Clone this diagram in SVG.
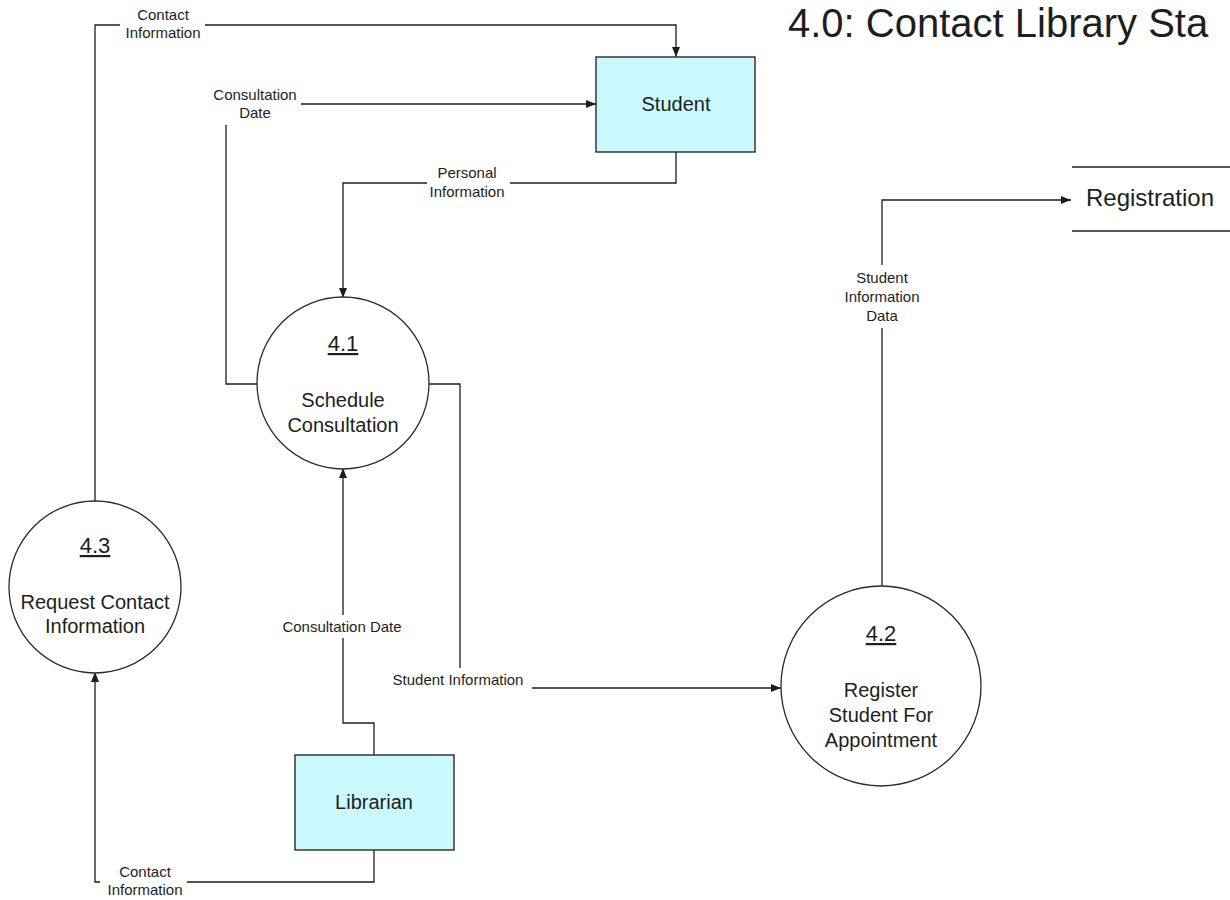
<svg xmlns="http://www.w3.org/2000/svg" width="1230" height="900" viewBox="0 0 1230 900">
  <style>
    text { font-family: "Liberation Sans", Arial, sans-serif; fill: #1e1e1e; }
    .lbl { font-size: 15px; text-anchor: middle; }
    .big { font-size: 20px; text-anchor: middle; }
    .num { font-size: 22px; text-anchor: middle; text-decoration: underline; }
    .ent { fill: #c9f9fc; stroke: #2a2a2a; stroke-width: 1.4; }
    .proc { fill: #ffffff; stroke: #2a2a2a; stroke-width: 1.3; }
    .flow { fill: none; stroke: #1e1e1e; stroke-width: 1.3; }
    .store { stroke: #1e1e1e; stroke-width: 1.3; }
  </style>
  <defs>
    <marker id="arr" viewBox="0 0 10 8" refX="10" refY="4" markerWidth="10" markerHeight="8" markerUnits="userSpaceOnUse" orient="auto">
      <path d="M0,0 L10,4 L0,8 z" fill="#1e1e1e"/>
    </marker>
  </defs>
  <rect width="1230" height="900" fill="#ffffff"/>

  <text x="788" y="37" style="font-size:40px">4.0: Contact Library Sta</text>

  <g id="connectors">
    <path class="flow" d="M95,501 L95,25 L120,25 M205,25 L676,25 L676,57" marker-end="url(#arr)"/>
    <path class="flow" d="M257,384 L226,384 L226,125 M301,104 L596,104" marker-end="url(#arr)"/>
    <path class="flow" d="M676,152 L676,183 L510,183 M427,183 L343,183 L343,298" marker-end="url(#arr)"/>
    <path class="flow" d="M374,755 L374,723 L343,723 L343,638 M343,615 L343,468" marker-end="url(#arr)"/>
    <path class="flow" d="M429,384 L460,384 L460,668 M532,688 L781,688" marker-end="url(#arr)"/>
    <path class="flow" d="M882,586 L882,328 M882,265 L882,200 L1071,200" marker-end="url(#arr)"/>
    <path class="flow" d="M374,850 L374,882 L187,882 M100,882 L95,882 L95,672" marker-end="url(#arr)"/>

    <text class="lbl" x="163" y="20">Contact</text>
    <text class="lbl" x="163" y="38">Information</text>
    <text class="lbl" x="255" y="100">Consultation</text>
    <text class="lbl" x="255" y="118">Date</text>
    <text class="lbl" x="467" y="178">Personal</text>
    <text class="lbl" x="467" y="197">Information</text>
    <text class="lbl" x="882" y="283">Student</text>
    <text class="lbl" x="882" y="302">Information</text>
    <text class="lbl" x="882" y="321">Data</text>
    <text class="lbl" x="342" y="632">Consultation Date</text>
    <text class="lbl" x="458" y="685">Student Information</text>
    <text class="lbl" x="145" y="877">Contact</text>
    <text class="lbl" x="145" y="895">Information</text>
  </g>

  <g id="student">
    <rect class="ent" x="596" y="57" width="159" height="95"/>
    <text class="big" x="676" y="111">Student</text>
  </g>

  <g id="librarian">
    <rect class="ent" x="295" y="755" width="159" height="95"/>
    <text class="big" x="374" y="809">Librarian</text>
  </g>

  <g id="registration">
    <line class="store" x1="1072" y1="167" x2="1230" y2="167"/>
    <line class="store" x1="1072" y1="231" x2="1230" y2="231"/>
    <text x="1086" y="206" style="font-size:24px">Registration</text>
  </g>

  <g id="p41">
    <circle class="proc" cx="343" cy="383" r="86"/>
    <text class="num" x="343" y="351">4.1</text>
    <text class="big" x="343" y="407">Schedule</text>
    <text class="big" x="343" y="432">Consultation</text>
  </g>

  <g id="p42">
    <circle class="proc" cx="881" cy="686" r="100"/>
    <text class="num" x="881" y="641">4.2</text>
    <text class="big" x="881" y="697">Register</text>
    <text class="big" x="881" y="722">Student For</text>
    <text class="big" x="881" y="747">Appointment</text>
  </g>

  <g id="p43">
    <circle class="proc" cx="95" cy="587" r="86"/>
    <text class="num" x="95" y="553">4.3</text>
    <text class="big" x="95" y="609">Request Contact</text>
    <text class="big" x="95" y="633">Information</text>
  </g>
</svg>
